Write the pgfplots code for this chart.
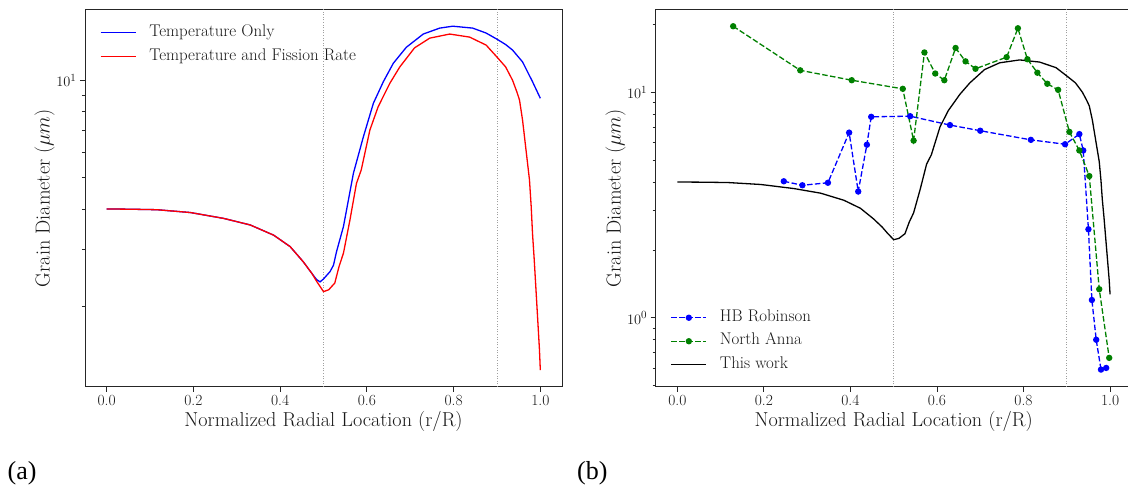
\documentclass[border=0pt]{standalone}
\usepackage{pgfplots}
\pgfplotsset{compat=1.18}
\usepackage{fontspec}
\newfontfamily\capfont{Liberation Serif}
\definecolor{mgreen}{RGB}{0,128,0}

\pgfplotstableread{
x y
0.000 4.00
0.050 3.995
0.116 3.98
0.193 3.90
0.270 3.74
0.331 3.57
0.385 3.32
0.423 3.06
0.453 2.75
0.473 2.53
0.485 2.38
0.500 2.22
0.512 2.25
0.526 2.36
0.536 2.66
0.546 2.92
0.561 3.70
0.576 4.80
0.587 5.28
0.607 7.02
0.626 8.28
0.653 9.79
0.676 11.0
0.710 12.6
0.745 13.5
0.791 13.9
0.837 13.6
0.875 12.85
0.900 11.8
0.920 11.0
0.936 10.0
0.946 9.2
0.952 8.69
0.959 7.54
0.967 6.09
0.975 4.92
0.979 4.06
0.982 3.36
0.986 2.78
0.990 2.25
0.994 1.82
0.998 1.47
1.000 1.27
}\fission

\pgfplotstableread{
x y
0.000 4.00
0.050 3.995
0.116 3.98
0.193 3.90
0.270 3.74
0.331 3.57
0.385 3.32
0.423 3.06
0.453 2.75
0.473 2.53
0.484 2.42
0.492 2.38
0.500 2.43
0.515 2.56
0.523 2.68
0.530 2.95
0.546 3.53
0.569 5.16
0.592 6.69
0.615 8.49
0.638 9.90
0.661 11.29
0.691 12.65
0.730 13.9
0.768 14.5
0.798 14.7
0.844 14.5
0.875 14.0
0.900 13.4
0.920 12.9
0.936 12.4
0.959 11.4
0.982 9.9
1.000 8.8
}\temponly

\pgfplotstableread{
x y
0.246 4.03
0.289 3.87
0.348 3.97
0.397 6.62
0.418 3.63
0.438 5.85
0.448 7.78
0.538 7.83
0.630 7.15
0.700 6.75
0.817 6.15
0.896 5.88
0.929 6.52
0.938 5.52
0.950 2.47
0.958 1.20
0.968 0.80
0.979 0.59
0.991 0.60
}\robinson

\pgfplotstableread{
x y
0.129 19.6
0.284 12.5
0.403 11.3
0.521 10.35
0.546 6.1
0.571 15.0
0.596 12.1
0.617 11.3
0.643 15.7
0.666 13.7
0.689 12.7
0.761 14.3
0.787 19.2
0.809 14.0
0.832 12.2
0.855 10.9
0.880 10.24
0.906 6.67
0.929 5.52
0.952 4.25
0.975 1.34
0.998 0.665
}\northanna

\pgfplotsset{
  myaxis/.style={
    scale only axis, height=377.7pt,
    xmin=-0.05, xmax=1.05,
    xtick={0,0.2,0.4,0.6,0.8,1.0},
    xticklabels={0.0,0.2,0.4,0.6,0.8,1.0},
    tick align=outside, xtick pos=bottom, ytick pos=left,
    major tick length=5pt, minor tick length=3pt,
    tick style={black!85, line width=0.8pt},
    axis line style={black!85, line width=1pt},
    tick label style={font=\fontsize{15.5}{18}\selectfont, text=black!90},
    label style={font=\fontsize{20.2}{24}\selectfont, text=black!90, inner sep=0pt},
    xlabel style={at={(axis description cs:0.5,-0.1059)}, anchor=base},
    ylabel style={at={(axis description cs:-0.0629,0.5)}, anchor=south},
    legend cell align=left,
    legend style={draw=none, fill=none, inner sep=0pt, outer sep=0pt,
      font=\fontsize{16.9}{20}\selectfont, text=black!90,
      row sep=8pt, column sep=13pt, nodes={inner sep=0pt, text height=11.5pt, text depth=4pt}},
    legend image code/.code={\draw[#1, mark repeat=2, mark phase=2] plot coordinates {(0pt,0pt) (17.5pt,0pt) (35pt,0pt)};},
  },
  vline/.style={gray!75, line width=0.8pt, dash pattern=on 1pt off 1.6pt, forget plot},
}

\begin{document}
\begin{tikzpicture}
\begin{axis}[myaxis, ymode=log, at={(85pt,102pt)}, anchor=south west, width=477pt,
  xlabel={Normalized Radial Location (r/R)},
  ylabel={Grain Diameter ($\mu m$)},
  ymin=1.126, ymax=16.58, ytick={10}, minor ytick={2,3,4,5,6,7,8,9},
  legend style={at={(rel axis cs:0.0314,0.9584)}, anchor=north west}]
\addplot[vline] coordinates {(0.5,1.126) (0.5,16.58)};
\addplot[vline] coordinates {(0.9,1.126) (0.9,16.58)};
\addplot[blue, line width=1.3pt] table[x=x,y=y] {\temponly};
\addlegendentry{Temperature Only}
\addplot[red, line width=1.3pt] table[x=x,y=y] {\fission};
\addlegendentry{Temperature and Fission Rate}
\end{axis}

\begin{axis}[myaxis, ymode=log, at={(655.7pt,102pt)}, anchor=south west, width=476pt,
  xlabel={Normalized Radial Location (r/R)},
  ylabel={Grain Diameter ($\mu m$)},
  ymin=0.494, ymax=23.3, ytick={1,10},
  minor ytick={0.5,0.6,0.7,0.8,0.9,2,3,4,5,6,7,8,9,20},
  legend style={at={(rel axis cs:0.0315,0.2039)}, anchor=north west}]
\addplot[vline] coordinates {(0.5,0.494) (0.5,23.3)};
\addplot[vline] coordinates {(0.9,0.494) (0.9,23.3)};
\addplot[blue, line width=1.3pt, dash pattern=on 5.5pt off 2.4pt, mark=*, mark size=2.5pt, mark options={solid}] table[x=x,y=y] {\robinson};
\addlegendentry{HB Robinson}
\addplot[mgreen, line width=1.3pt, dash pattern=on 5.5pt off 2.4pt, mark=*, mark size=2.5pt, mark options={solid}] table[x=x,y=y] {\northanna};
\addlegendentry{North Anna}
\addplot[black, line width=1.3pt] table[x=x,y=y] {\fission};
\addlegendentry{This work}
\end{axis}

\node[anchor=base west, inner sep=0pt, font=\capfont\fontsize{26}{30}\selectfont] at (7.5pt,9.3pt) {(a)};
\node[anchor=base west, inner sep=0pt, font=\capfont\fontsize{26}{30}\selectfont] at (577pt,9.3pt) {(b)};
\pgfresetboundingbox
\useasboundingbox (0pt,0pt) rectangle (1128pt,489pt);
\end{tikzpicture}
\end{document}
